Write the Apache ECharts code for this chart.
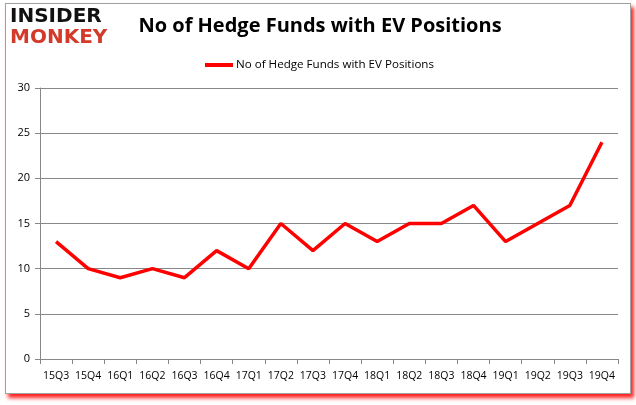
<!DOCTYPE html>
<html><head><meta charset="utf-8">
<script src="https://cdn.jsdelivr.net/npm/echarts@6/dist/echarts.min.js"></script>
<style>
html,body{margin:0;padding:0;background:#fff;}
#frame{position:absolute;left:5px;top:3px;width:624px;height:389px;border:1px solid #a0a0a0;box-shadow:3px 4px 4px #ff2020;background:#fff;}
#c{position:absolute;left:0;top:0;width:636px;height:405px;}
</style></head>
<body>
<div id="frame"></div>
<div id="c"></div>
<script>
const categories = ['15Q3','15Q4','16Q1','16Q2','16Q3','16Q4','17Q1','17Q2','17Q3','17Q4','18Q1','18Q2','18Q3','18Q4','19Q1','19Q2','19Q3','19Q4'];
const seriesName = 'No of Hedge Funds with EV Positions';
const values = [13,10,9,10,9,12,10,15,12,15,13,15,15,17,13,15,17,24];
const yTicks = [0,5,10,15,20,25,30];

const chart = echarts.init(document.getElementById('c'), null, {renderer:'canvas'});
chart.setOption({
  animation:false,
  backgroundColor:'transparent',
  title:{text:'No of Hedge Funds with EV Positions',left:315,top:11,textAlign:'center',
    textStyle:{fontFamily:'Open Sans',fontSize:20,fontWeight:'bold',color:'#000'}},
  legend:{top:54,left:200,itemWidth:28,itemHeight:4,itemGap:3,icon:'rect',
    textStyle:{fontFamily:'Open Sans',fontSize:11.6,color:'#000',padding:[0,0,0,-2]},
    data:[seriesName]},
  graphic:[
    {type:'text',left:10,top:7,style:{text:'INSIDER',font:'bold 20px "DejaVu Sans"',fill:'#111'}},
    {type:'text',left:10,top:28,style:{text:'MONKEY',font:'bold 20px "DejaVu Sans"',fill:'#d43a2a'}}
  ],
  grid:{left:40,right:18,top:88,bottom:46},
  xAxis:{type:'category',data:categories,boundaryGap:true,
    axisLine:{lineStyle:{color:'#888'}},
    axisTick:{show:true,alignWithLabel:false,length:5,lineStyle:{color:'#888'}},
    axisLabel:{interval:0,fontFamily:'Open Sans',fontSize:10.5,color:'#000',margin:12}},
  yAxis:{type:'value',min:yTicks[0],max:yTicks[yTicks.length-1],interval:5,
    axisLine:{show:true,lineStyle:{color:'#888'}},
    axisTick:{show:true,length:5,lineStyle:{color:'#888'}},
    axisLabel:{fontFamily:'Open Sans',fontSize:11,color:'#000',margin:10},
    splitLine:{lineStyle:{color:'#888'}}},
  series:[{name:seriesName,type:'line',data:values,symbol:'none',
    lineStyle:{color:'#ff0000',width:3.5},itemStyle:{color:'#ff0000'}}]
});
</script>
</body></html>
